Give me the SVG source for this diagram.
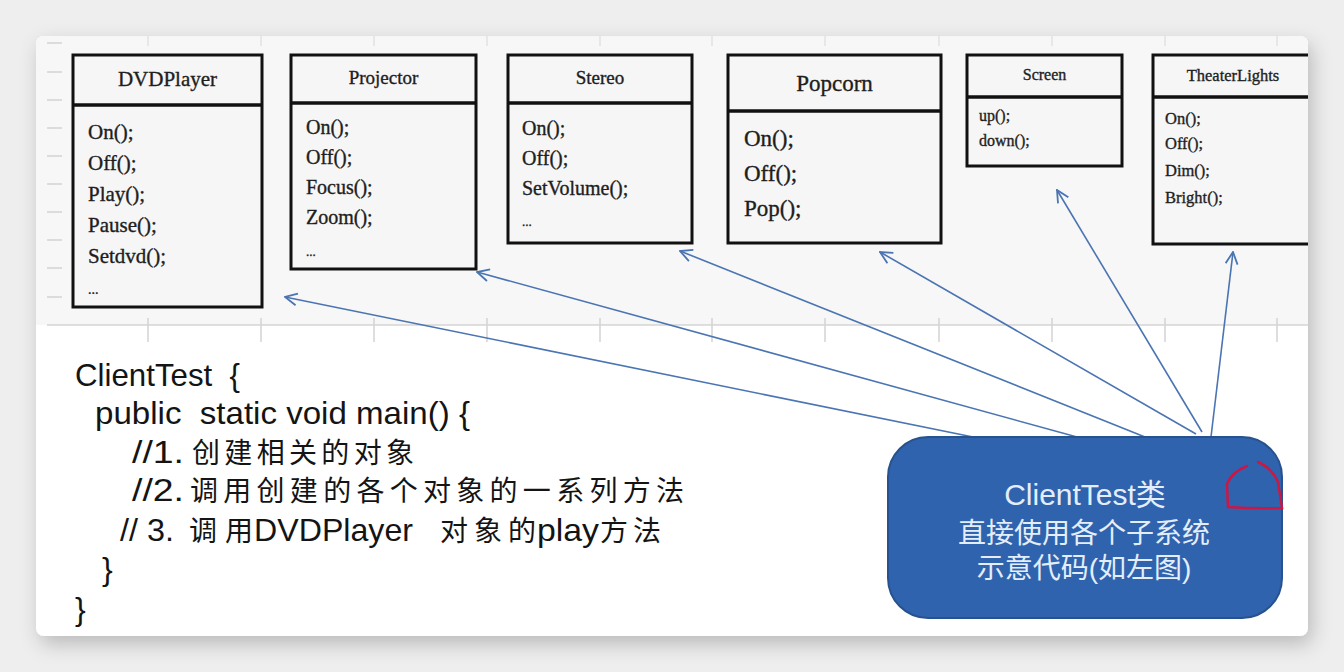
<svg xmlns="http://www.w3.org/2000/svg" width="1344" height="672" viewBox="0 0 1344 672">
<defs>
<filter id="sh" x="-5%" y="-5%" width="110%" height="115%">
<feDropShadow dx="4" dy="8" stdDeviation="10" flood-color="#000" flood-opacity="0.22"/>
</filter>
<clipPath id="card"><rect x="36" y="36" width="1272" height="600" rx="8"/></clipPath>
<marker id="ah" viewBox="0 0 14 14" refX="13" refY="7" markerWidth="14" markerHeight="14" markerUnits="userSpaceOnUse" orient="auto">
<path d="M1,1 L13,7 L1,13" fill="none" stroke="#4a74b2" stroke-width="1.8"/>
</marker>
<style>
.bx{fill:#f6f6f6;stroke:#111;stroke-width:3}
.dv{stroke:#111;stroke-width:3.5}
.t{font-family:"Liberation Serif","Times New Roman",serif;fill:#1e1e1e;stroke:#1e1e1e;stroke-width:0.35}
.c{font-family:"Liberation Sans",Arial,"Noto Sans CJK SC",sans-serif;fill:#141414;font-size:32px}
.cj{font-family:"Noto Sans CJK SC","Liberation Sans",sans-serif;fill:#141414;font-size:28px}
.w{font-family:"Liberation Sans",Arial,"Noto Sans CJK SC",sans-serif;fill:#e4eefb;text-anchor:middle}
.g{stroke:#d4d4d4;stroke-width:1.5}
.cn{fill:none;stroke:#4a74b2;stroke-width:1.6;marker-end:url(#ah)}
</style>
</defs>
<rect x="0" y="0" width="1344" height="672" fill="#eeeeee"/>
<rect x="36" y="36" width="1272" height="600" rx="8" fill="#ffffff" filter="url(#sh)"/>
<g clip-path="url(#card)">
<rect x="36" y="36" width="1272" height="289" fill="#f7f7f7"/>
<g id="grid">
<line class="g" x1="47" y1="325" x2="1308" y2="325"/>
<path class="g" d="M47,43H62M47,72H62M47,100H62M47,128H62M47,156H62M47,184H62M47,212H62M47,240H62M47,268H62M47,297H62"/>
<path class="g" d="M148,318V342M261,318V342M374,318V342M487,318V342M600,318V342M712,318V342M825,318V342M939,318V342M1052,318V342M1165,318V342M1277,318V342"/>
<path class="g" d="M148,36V46M261,36V46M374,36V46M487,36V46M600,36V46M712,36V46M825,36V46M939,36V46M1052,36V46M1165,36V46M1277,36V46" opacity="0.6"/>
</g>
<g id="dvdplayer">
<rect class="bx" x="73" y="55" width="189" height="252"/>
<line class="dv" x1="73" y1="105" x2="262" y2="105"/>
<text class="t" x="167.5" y="86" font-size="21" text-anchor="middle">DVDPlayer</text>
<text class="t" x="88" y="139" font-size="21">On();</text>
<text class="t" x="88" y="170" font-size="21">Off();</text>
<text class="t" x="88" y="201" font-size="21">Play();</text>
<text class="t" x="88" y="232" font-size="21">Pause();</text>
<text class="t" x="88" y="263" font-size="21">Setdvd();</text>
<text class="t" x="88" y="294" font-size="14">...</text>
</g>
<g id="projector">
<rect class="bx" x="291" y="55" width="185" height="214"/>
<line class="dv" x1="291" y1="103" x2="476" y2="103"/>
<text class="t" x="383.5" y="84" font-size="19" text-anchor="middle">Projector</text>
<text class="t" x="306" y="134" font-size="20">On();</text>
<text class="t" x="306" y="164" font-size="20">Off();</text>
<text class="t" x="306" y="194" font-size="20">Focus();</text>
<text class="t" x="306" y="224" font-size="20">Zoom();</text>
<text class="t" x="306" y="256" font-size="13">...</text>
</g>
<g id="stereo">
<rect class="bx" x="508" y="55" width="184" height="188"/>
<line class="dv" x1="508" y1="103" x2="692" y2="103"/>
<text class="t" x="600" y="84" font-size="19" text-anchor="middle">Stereo</text>
<text class="t" x="522" y="135" font-size="20">On();</text>
<text class="t" x="522" y="165" font-size="20">Off();</text>
<text class="t" x="522" y="195" font-size="20">SetVolume();</text>
<text class="t" x="522" y="226" font-size="13">...</text>
</g>
<g id="popcorn">
<rect class="bx" x="728" y="55" width="213" height="188"/>
<line class="dv" x1="728" y1="111" x2="941" y2="111"/>
<text class="t" x="834.5" y="91" font-size="23" text-anchor="middle">Popcorn</text>
<text class="t" x="744" y="146" font-size="23">On();</text>
<text class="t" x="744" y="181" font-size="23">Off();</text>
<text class="t" x="744" y="216" font-size="23">Pop();</text>
</g>
<g id="screen">
<rect class="bx" x="967" y="55" width="155" height="111"/>
<line class="dv" x1="967" y1="97" x2="1122" y2="97"/>
<text class="t" x="1044.5" y="80" font-size="16" text-anchor="middle">Screen</text>
<text class="t" x="979" y="121" font-size="16">up();</text>
<text class="t" x="979" y="146" font-size="16">down();</text>
</g>
<g id="theaterlights">
<rect class="bx" x="1153" y="55" width="170" height="189"/>
<line class="dv" x1="1153" y1="97" x2="1323" y2="97"/>
<text class="t" x="1233" y="81" font-size="16.5" text-anchor="middle">TheaterLights</text>
<text class="t" x="1165" y="124" font-size="16.5">On();</text>
<text class="t" x="1165" y="149" font-size="16.5">Off();</text>
<text class="t" x="1165" y="176" font-size="16.5">Dim();</text>
<text class="t" x="1165" y="203" font-size="16.5">Bright();</text>
</g>
</g>
<g id="code">
<text class="c" x="75" y="386" textLength="165" lengthAdjust="spacingAndGlyphs" xml:space="preserve">ClientTest  {</text>
<text class="c" x="95" y="424" textLength="375" lengthAdjust="spacingAndGlyphs" xml:space="preserve">public  static void main() {</text>
<text class="c" x="132" y="463" textLength="52" lengthAdjust="spacingAndGlyphs">//1.</text>
<text class="cj" x="192" y="463" textLength="222" lengthAdjust="spacing">创建相关的对象</text>
<text class="c" x="132" y="501" textLength="52" lengthAdjust="spacingAndGlyphs">//2.</text>
<text class="cj" x="190" y="501" textLength="494" lengthAdjust="spacing">调用创建的各个对象的一系列方法</text>
<text class="c" x="120" y="541" textLength="54" lengthAdjust="spacingAndGlyphs" xml:space="preserve">// 3.</text>
<text class="cj" x="189" y="541" textLength="64" lengthAdjust="spacing">调用</text>
<text class="c" x="254" y="541" textLength="159" lengthAdjust="spacingAndGlyphs">DVDPlayer</text>
<text class="cj" x="440" y="541" textLength="96" lengthAdjust="spacing">对象的</text>
<text class="c" x="537" y="541" textLength="62" lengthAdjust="spacingAndGlyphs">play</text>
<text class="cj" x="600" y="541" textLength="61" lengthAdjust="spacing">方法</text>
<text class="c" x="102" y="580" font-size="30">}</text>
<text class="c" x="75" y="620" font-size="30">}</text>
</g>
<g id="connectors">
<line class="cn" x1="973" y1="437" x2="285" y2="297"/>
<line class="cn" x1="1077" y1="437" x2="477" y2="272"/>
<line class="cn" x1="1145" y1="437" x2="680" y2="251"/>
<line class="cn" x1="1196" y1="434" x2="880" y2="252"/>
<line class="cn" x1="1202" y1="432" x2="1057" y2="190"/>
<line class="cn" x1="1211" y1="437" x2="1233" y2="252"/>
</g>
<g id="clienttest">
<rect x="888" y="437" width="394" height="181" rx="40" fill="#2f63ae" stroke="#27528f" stroke-width="2"/>
<text class="w" x="1085" y="505" font-size="30">ClientTest类</text>
<text class="w" x="1084" y="543" font-size="28">直接使用各个子系统</text>
<text class="w" x="1084" y="578" font-size="28">示意代码(如左图)</text>
</g>
<path id="mark" d="M1228,507 L1227,484 Q1232,472 1247,466 M1258,462 Q1272,468 1278,482 L1282,508 Q1255,509 1228,507" fill="none" stroke="#cc1744" stroke-width="2.5" stroke-linecap="round"/>
</svg>
